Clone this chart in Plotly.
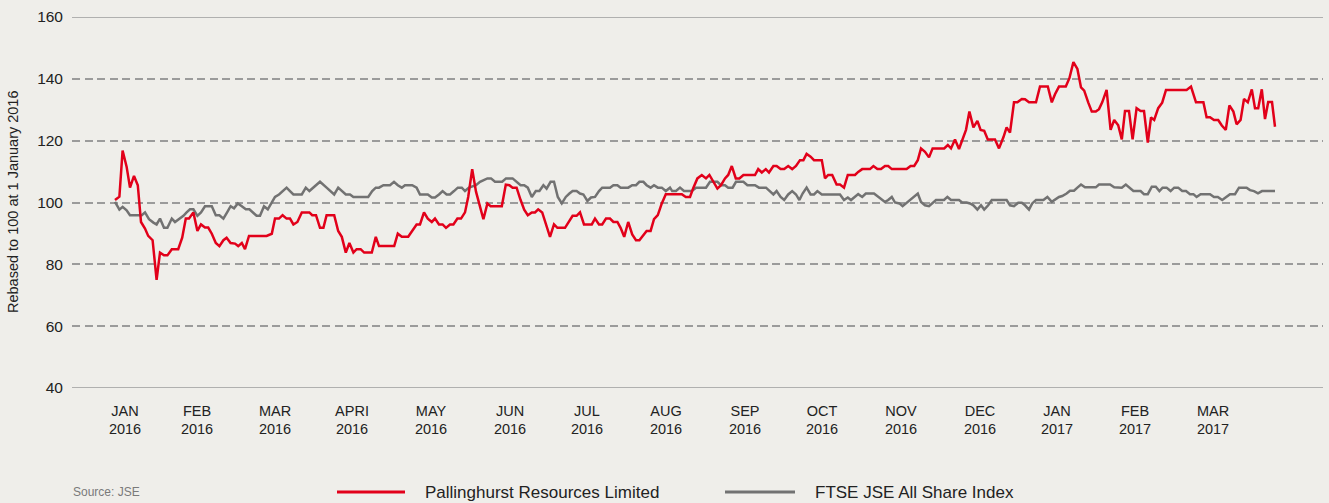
import plotly.graph_objects as go

# ---- data (trading-day index, value rebased to 100) ----
red_day = [0, 1.1, 1.9, 2.9, 3.75, 4.75, 5.7, 6.5, 7.5, 8.3, 9.4, 10.4, 11.25, 12.25, 13.1, 14.2, 15.8, 16.8, 17.7,
           18.5, 19.6, 20.6, 21.5, 22.5, 23.3, 24.2, 25.2, 26.1, 27.1, 27.9, 28.9, 30, 30.8, 31.7, 32.5, 33.5, 36.25,
           37.9, 39.2, 40, 41, 41.9, 42.9, 43.75, 44.6, 45.6, 46.7, 48.6, 49.3, 50.25, 51.25, 52.1, 52.9, 54.8, 55.8,
           56.7, 57.7, 58.6, 59.6, 60.4, 61.4, 62.3, 64.2, 65.2, 66, 69.8, 70.7, 71.7, 73.3, 74.3, 75.4, 76.25, 77.25,
           78.2, 79.2, 80, 81, 81.9, 82.75, 83.75, 84.6, 85.6, 86.5, 87.5, 88.3, 89.3, 90.25, 92.1, 93.1, 93.9, 96.7,
           97.7, 98.6, 99.4, 100.4, 101.4, 102.3, 103.2, 104.2, 105, 105.8, 106.8, 107.75, 108.75, 109.75, 110.6,
           112.5, 113.5, 114.4, 115.4, 116.25, 117.25, 119.2, 120, 121, 121.8, 122.75, 123.75, 124.6, 125.6, 126.4,
           127.3, 128.3, 129.3, 130.25, 131.1, 132.1, 132.9, 133.9, 134.75, 135.7, 136.7, 137.7, 138.75, 141.7, 142.7,
           143.75, 144.6, 145.6, 146.7, 147.75, 148.6, 149.6, 150.6, 151.5, 152.5, 153.3, 154.2, 155.2, 156.1, 157.1,
           160, 160.8, 161.7, 162.7, 163.5, 164.6, 165.4, 166.4, 167.3, 168.3, 169.3, 170.25, 171.25, 172.1, 172.9,
           173.9, 174.75, 176.7, 177.5, 178.3, 179.3, 180.4, 181.25, 182.25, 183.2, 185, 185.8, 186.8, 188.75, 189.6,
           190.6, 191.5, 192.5, 193.3, 194.2, 197.9, 198.9, 199.8, 200.7, 201.5, 202.5, 203.5, 204.4, 207.3, 208.2,
           209, 210, 211, 211.8, 212.75, 213.6, 214.6, 215.6, 216.4, 217.3, 218.2, 220, 221, 222.1, 222.9, 223.75,
           224.75, 225.6, 226.7, 227.5, 228.5, 230.25, 231.25, 233.2, 234.2, 235, 236, 237.7, 238.6, 239.6, 240.6,
           241.5, 242.3, 243.3, 244.2, 245.2, 246, 246.8, 247.9, 248.9, 249.8, 250.8, 251.7, 252.5, 253.5, 254.4,
           255.4, 256.4, 257.25, 258.2, 259, 259.8, 260.8, 261.8, 262.75, 267.9, 269, 270.25, 272.1, 272.9, 273.75,
           274.75, 275.8, 276.7, 277.7, 278.6, 279.6, 280.4, 281.4, 282.25, 283.2, 284.2, 285, 285.8, 286.7, 287.5,
           288.3, 289.25, 290]
red_val = [100.8, 101.9, 116.8, 111.6, 104.8, 108.6, 105.6, 93.7, 91.6, 89.2, 87.8, 75, 83.8, 82.9, 82.9, 84.9, 84.9,
           88.6, 94.8, 94.8, 96.8, 90.8, 92.9, 91.9, 91.9, 89.9, 86.9, 85.9, 87.8, 88.6, 86.9, 86.7, 85.9, 86.9, 84.9,
           89.2, 89.2, 89.2, 89.9, 94.8, 94.8, 95.9, 94.8, 94.8, 92.9, 93.7, 96.8, 96.8, 95.9, 95.9, 91.8, 91.8, 95.9,
           95.9, 90.8, 88.9, 83.8, 86.9, 83.8, 84.9, 84.9, 83.8, 83.8, 88.9, 85.9, 85.9, 89.9, 88.9, 88.9, 90.8, 92.9,
           92.9, 96.8, 94.8, 93.7, 94.8, 92.9, 92.9, 91.8, 92.9, 92.9, 94.8, 94.8, 96.8, 101.8, 110.8, 103.5, 94.6,
           99.7, 98.8, 98.8, 105.8, 105.6, 104.8, 104.8, 100.8, 97.7, 95.9, 96.8, 96.8, 97.8, 96.8, 92.9, 88.9, 92.9,
           91.8, 91.8, 93.7, 95.7, 95.7, 96.8, 92.9, 92.9, 94.8, 92.9, 92.9, 94.8, 94.8, 93.7, 93.7, 91.8, 88.9, 93.7,
           89.7, 87.8, 87.8, 89.7, 90.8, 90.8, 94.6, 95.9, 99.7, 102.7, 102.7, 102.7, 101.8, 101.8, 104.8, 107.8,
           108.9, 107.8, 108.9, 106.7, 104.5, 105.6, 107.8, 108.9, 111.8, 107.8, 107.8, 108.9, 108.9, 110.8, 109.7,
           110.8, 109.7, 111.8, 111.8, 110.8, 110.8, 111.8, 110.8, 111.8, 113.7, 113.7, 115.7, 114.8, 113.7, 113.7,
           107.8, 108.9, 108.9, 105.8, 105.8, 104.8, 108.9, 108.9, 109.9, 110.8, 110.8, 111.8, 110.8, 110.8, 111.8,
           111.8, 110.8, 110.8, 111.8, 111.8, 113.7, 117.5, 116.4, 114.6, 117.5, 117.5, 118.6, 117.5, 120.4, 117.3,
           120.2, 123.5, 129.4, 124.3, 126.4, 123.5, 123.2, 120.4, 120.4, 117.5, 121.1, 124.3, 122.6, 132.4, 132.4,
           133.5, 133.4, 132.4, 132.4, 137.5, 137.5, 132.4, 135, 137.5, 137.5, 140.2, 145.4, 143.2, 137.2, 136.2,
           132.4, 129.4, 129.4, 130.2, 132.4, 136.4, 123.5, 126.7, 125, 120.4, 129.6, 129.6, 120.4, 130.5, 129.6,
           129.6, 119.4, 127.5, 126.7, 130.5, 132.3, 136.4, 136.4, 137.5, 132.4, 132.4, 127.6, 127.6, 126.7, 126.7,
           124.9, 123.5, 131.4, 129.4, 125.3, 126.7, 133.5, 132.4, 136.6, 130.5, 130.5, 136.6, 127, 132.5, 132.5,
           124.5]

gray_day = [0, 1.1, 1.9, 2.9, 3.75, 6.7, 7.5, 8.5, 9.6, 10.4, 11.25, 12.25, 13.1, 14.2, 15, 16, 17.1, 17.9, 18.75,
            19.6, 20.6, 21.5, 22.5, 24.2, 25.2, 26.1, 27.1, 28.1, 28.9, 29.75, 30.7, 31.7, 32.7, 33.6, 34.6, 35.4,
            36.25, 37.25, 38.2, 39.2, 40, 41, 41.9, 42.9, 43.75, 44.6, 46.7, 47.7, 48.6, 51.25, 52.9, 54.8, 55.8,
            57.7, 58.75, 59.6, 63.3, 64.3, 65.2, 66, 67.1, 68.75, 69.75, 70.7, 71.7, 72.5, 74.3, 75.4, 76.25, 78.2,
            79.2, 80, 81, 81.9, 82.9, 83.75, 84.75, 85.7, 86.7, 87.5, 88.5, 90.25, 91.25, 93.1, 94, 95, 96.8, 97.75,
            99.4, 100.4, 101.4, 102.3, 103.2, 104.2, 105.2, 106.1, 107.1, 107.9, 108.9, 109.75, 110.7, 111.7, 112.7,
            113.6, 114.4, 115.4, 116.25, 117.1, 118.1, 119, 120, 121, 121.8, 123.75, 124.6, 125.6, 126.4, 128.3,
            129.3, 130.25, 131.1, 132.1, 132.9, 133.9, 134.75, 135.7, 136.7, 137.7, 138.75, 139.3, 140.25, 141.25,
            142.25, 144.2, 145.25, 147.75, 148.75, 150.6, 151.5, 152.5, 153.3, 154.4, 155.25, 157.1, 158.1, 160, 161,
            162.75, 163.75, 164.6, 165.4, 166.4, 167.3, 168.3, 169.3, 170.25, 171.1, 171.9, 172.9, 173.9, 174.75,
            175.6, 176.7, 181.25, 182.25, 183.2, 184, 185, 185.8, 186.8, 187.7, 189.75, 190.6, 191.5, 192.5, 193.3,
            194.2, 195, 196.1, 196.9, 197.9, 198.9, 199.8, 200.7, 201.5, 202.5, 203.5, 204.4, 205.25, 207.25, 208.1,
            209, 211, 211.8, 212.9, 213.75, 214.6, 215.6, 216.5, 217.3, 218.3, 219.2, 221.25, 222.9, 223.75, 224.75,
            225.8, 226.7, 227.5, 228.5, 229.3, 230.25, 232.1, 233.1, 234.2, 235, 236, 236.8, 237.9, 238.75, 239.75,
            240.6, 241.5, 242.5, 245.2, 246, 248.75, 249.8, 251.7, 252.7, 253.6, 254.6, 256.4, 257.25, 258.2, 259.2,
            260.2, 261.1, 261.9, 262.9, 263.9, 264.8, 265.8, 266.8, 267.75, 268.75, 269.6, 270.4, 271.4, 273.75,
            274.75, 275.7, 276.8, 277.75, 278.75, 280, 281, 282.9, 283.75, 284.75, 285.75, 286.75, 290]
gray_val = [100.2, 97.7, 98.6, 97.5, 95.9, 95.9, 96.8, 94.6, 93.5, 92.9, 94.8, 91.8, 91.8, 94.8, 93.7, 94.6, 95.7,
            96.8, 97.8, 97.8, 95.7, 96.8, 98.8, 98.8, 95.9, 95.9, 94.8, 97, 98.8, 98.1, 99.7, 98.8, 97.8, 97.8, 96.8,
            95.7, 95.7, 98.8, 97.8, 99.9, 101.8, 102.6, 103.7, 104.8, 103.7, 102.6, 102.6, 104.8, 103.7, 106.7, 104.8,
            102.6, 104.8, 102.6, 102.6, 101.8, 101.8, 103.7, 104.8, 104.8, 105.6, 105.6, 106.7, 105.6, 104.8, 105.6,
            105.6, 104.8, 102.6, 102.6, 101.6, 101.6, 102.6, 103.7, 102.6, 102.6, 103.7, 104.8, 104.8, 103.7, 104.8,
            105.6, 106.7, 107.8, 107.8, 106.7, 106.7, 107.8, 107.8, 106.7, 105.6, 105.6, 104.8, 101.8, 103.7, 103.7,
            105.6, 104.5, 106.7, 106.7, 101.8, 99.7, 101.8, 102.9, 103.7, 103.7, 102.9, 102.6, 100.5, 101.6, 101.8,
            103.7, 104.8, 104.8, 105.6, 105.6, 104.8, 104.8, 105.6, 105.6, 106.7, 106.7, 105.6, 104.8, 105.6, 104.8,
            104.8, 103.7, 104.8, 103.7, 103.7, 104.8, 103.7, 103.7, 104.8, 104.8, 106.7, 106.7, 105.6, 105.6, 104.8,
            104.8, 106.7, 106.7, 105.6, 105.6, 104.8, 104.8, 103.7, 102.6, 103.7, 101.8, 100.8, 102.6, 103.7, 102.6,
            100.8, 102.9, 104.8, 102.6, 102.6, 103.7, 102.6, 102.6, 100.8, 101.6, 100.8, 101.8, 102.7, 101.8, 102.9,
            102.9, 102.1, 101, 100.2, 100.8, 101.8, 100, 99.7, 98.8, 99.9, 101, 101.8, 102.9, 100.2, 99.1, 98.8,
            99.7, 100.8, 100.8, 101.8, 100.8, 100.8, 100, 100, 99.7, 99.1, 97.7, 99.1, 97.7, 99.1, 100.8, 100.8,
            100.8, 99.1, 98.8, 99.9, 99.9, 99.1, 97.7, 99.7, 100.8, 100.8, 101.8, 100.2, 101, 101.8, 102.1, 102.9,
            103.8, 103.8, 104.8, 105.8, 104.9, 104.9, 105.8, 105.8, 104.9, 104.8, 105.8, 104.8, 103.7, 103.7, 102.7,
            102.7, 105.1, 105.1, 103.7, 104.8, 104.8, 103.7, 104.8, 104.8, 103.7, 103.7, 102.7, 102.7, 101.8, 102.7,
            102.7, 101.8, 101.8, 100.8, 101.8, 102.7, 102.7, 104.8, 104.8, 104, 103.7, 103, 103.7, 103.7]

month_pos = [2.5, 20.5, 40, 59.25, 79, 98.75, 118, 137.75, 157.5, 176.75, 196.5, 216.25, 235.5, 255, 274.5]
month_labels = ["JAN<br>2016", "FEB<br>2016", "MAR<br>2016", "APRI<br>2016", "MAY<br>2016", "JUN<br>2016",
                "JUL<br>2016", "AUG<br>2016", "SEP<br>2016", "OCT<br>2016", "NOV<br>2016", "DEC<br>2016",
                "JAN<br>2017", "FEB<br>2017", "MAR<br>2017"]
y_ticks = [40, 60, 80, 100, 120, 140, 160]

series_names = ["Pallinghurst Resources Limited", "FTSE JSE All Share Index"]

# ---- styling ----
RED = "#e2001a"
GRAY = "#727272"
GRID = "#9b9b9b"
BG = "#efeeea"
TXT = "#222222"
FONT = "Liberation Sans, Arial, sans-serif"

W, H = 1329, 503
ML, MR, MT, MB = 72, 6, 17, 115
PW, PH = W - ML - MR, H - MT - MB


def px_x(p):
    return (p - ML) / PW


def px_y(p):
    return (H - MB - p) / PH


fig = go.Figure()
fig.add_trace(go.Scatter(x=gray_day, y=gray_val, mode="lines", name=series_names[1],
                         line=dict(color=GRAY, width=2.5)))
fig.add_trace(go.Scatter(x=red_day, y=red_val, mode="lines", name=series_names[0],
                         line=dict(color=RED, width=2.5)))

shapes = [
    dict(type="line", xref="paper", yref="y", x0=0, x1=1, y0=160, y1=160, line=dict(color=GRID, width=1.5)),
    dict(type="line", xref="paper", yref="y", x0=0, x1=1, y0=40, y1=40, line=dict(color=GRID, width=1.5)),
    # legend samples
    dict(type="line", xref="paper", yref="paper", x0=px_x(337), x1=px_x(405), y0=px_y(492), y1=px_y(492),
         line=dict(color=RED, width=3)),
    dict(type="line", xref="paper", yref="paper", x0=px_x(725), x1=px_x(795), y0=px_y(492), y1=px_y(492),
         line=dict(color=GRAY, width=3)),
]

annotations = [
    dict(text="Rebased to 100 at 1 January 2016", textangle=-90, xref="paper", yref="paper",
         x=px_x(13), y=px_y(202), xanchor="center", yanchor="middle", showarrow=False,
         font=dict(family=FONT, size=14.5, color=TXT)),
    dict(text="Source: JSE", xref="paper", yref="paper", x=px_x(71), y=px_y(492), xanchor="left",
         yanchor="middle", showarrow=False, font=dict(family=FONT, size=12, color="#7a7a7a")),
    dict(text=series_names[0], xref="paper", yref="paper", x=px_x(423), y=px_y(492), xanchor="left",
         yanchor="middle", showarrow=False, font=dict(family=FONT, size=17, color=TXT)),
    dict(text=series_names[1], xref="paper", yref="paper", x=px_x(813), y=px_y(492), xanchor="left",
         yanchor="middle", showarrow=False, font=dict(family=FONT, size=17, color=TXT)),
]

fig.update_layout(
    width=W, height=H,
    margin=dict(l=ML, r=MR, t=MT, b=MB, pad=0),
    paper_bgcolor=BG, plot_bgcolor=BG,
    showlegend=False,
    shapes=shapes,
    annotations=annotations,
    font=dict(family=FONT, color=TXT),
)
fig.update_xaxes(range=[(72 - 115) / 4, (1323 - 115) / 4], tickmode="array", tickvals=month_pos,
                 ticktext=month_labels, showgrid=False, zeroline=False, showline=False, ticks="",
                 ticklabelstandoff=12, tickfont=dict(family=FONT, size=14.5, color=TXT))
fig.update_yaxes(range=[40, 160], tickmode="array", tickvals=y_ticks, showgrid=True, gridcolor=GRID,
                 gridwidth=1.5, griddash="8px,4.5px", zeroline=False, showline=False, ticks="",
                 ticklabelstandoff=8, tickfont=dict(family=FONT, size=15.5, color=TXT))

fig.write_html("out.html")
